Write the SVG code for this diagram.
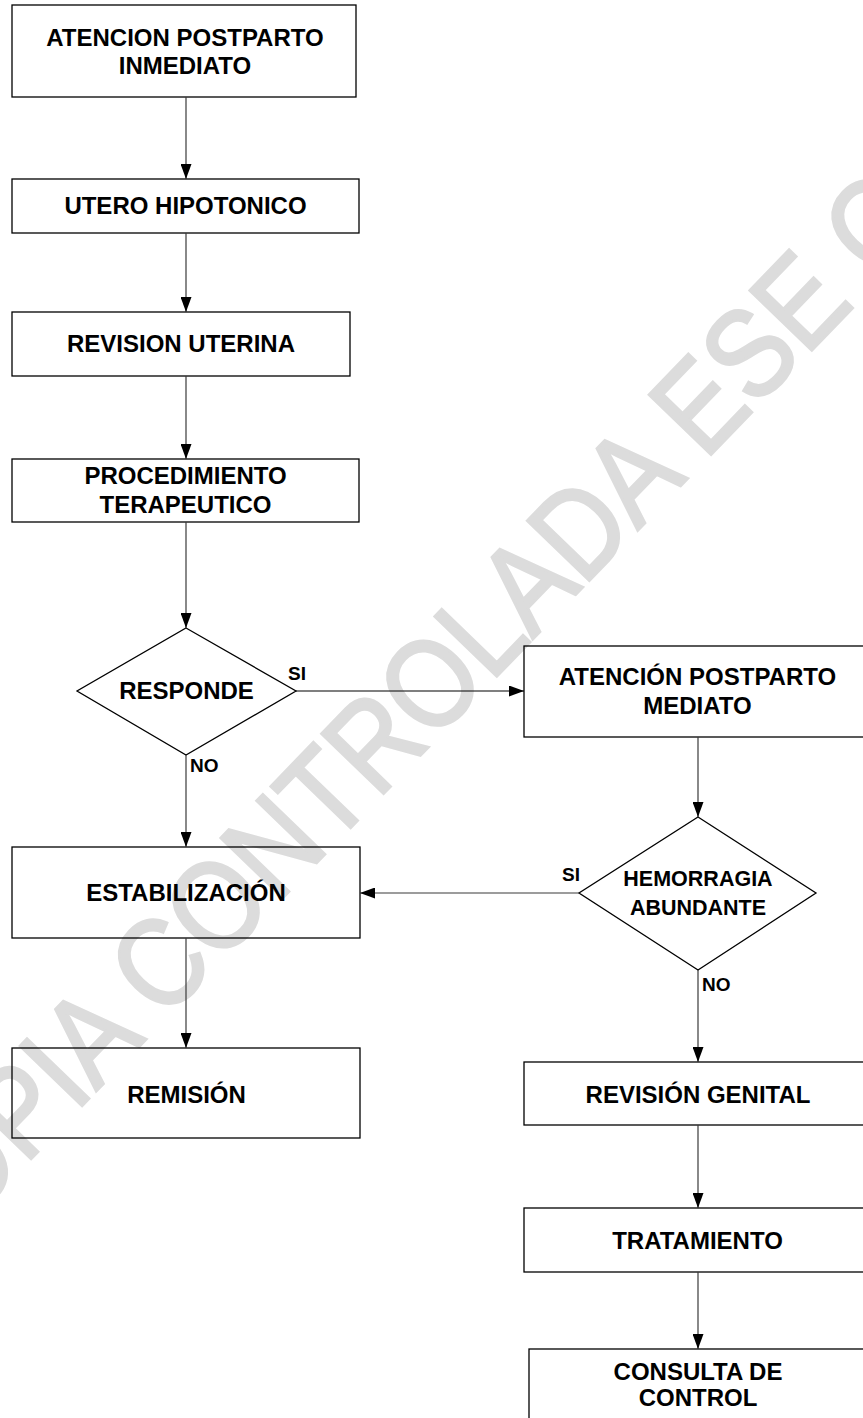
<svg xmlns="http://www.w3.org/2000/svg" width="863" height="1418" viewBox="0 0 863 1418">
<style>
.box{fill:none;stroke:#000;stroke-width:1.3}
.t{font-family:"Liberation Sans",Arial,sans-serif;font-weight:bold;font-size:24px;fill:#000;text-anchor:middle}
.th{font-size:21.5px}
.lb{font-family:"Liberation Sans",Arial,sans-serif;font-weight:bold;font-size:19px;fill:#000}
.c{fill:none;stroke:#3a3a3a;stroke-width:1.2}
.wm{font-family:"Liberation Sans",Arial,sans-serif;font-size:125px;fill:#dcdcdc;stroke:#dcdcdc;stroke-width:3}
</style>
<defs>
<marker id="ah" markerUnits="userSpaceOnUse" markerWidth="15" markerHeight="11" refX="15" refY="5.5" orient="auto">
<path d="M0,0 L15,5.5 L0,11 z" fill="#000"/>
</marker>
</defs>
<rect width="863" height="1418" fill="#fff"/>
<text class="wm" x="0" y="0" transform="translate(-88.6,1282.5) rotate(-46) scale(0.87,1)">COPIA CONTROLADA ESE C</text>
<g id="n1"><rect class="box" x="12" y="5" width="344" height="92"/><text class="t" x="185" y="46">ATENCION POSTPARTO</text><text class="t" x="185" y="73.5">INMEDIATO</text></g>
<g id="n2"><rect class="box" x="12" y="179" width="347" height="54"/><text class="t" x="185.5" y="214">UTERO HIPOTONICO</text></g>
<g id="n3"><rect class="box" x="12" y="312" width="338" height="64"/><text class="t" x="181" y="352">REVISION UTERINA</text></g>
<g id="n4"><rect class="box" x="12" y="459" width="347" height="63"/><text class="t" x="185.5" y="483.5">PROCEDIMIENTO</text><text class="t" x="185.5" y="512.5">TERAPEUTICO</text></g>
<g id="d1"><polygon class="box" points="186,628 296,691 186,755 77,691"/><text class="t" x="186.5" y="699">RESPONDE</text></g>
<g id="n5"><rect class="box" x="524" y="646" width="348" height="91"/><text class="t" x="697.5" y="685">ATENCIÓN POSTPARTO</text><text class="t" x="697.5" y="714">MEDIATO</text></g>
<g id="d2"><polygon class="box" points="698,817 816,893 698,970 579,893"/><text class="t th" x="698" y="886">HEMORRAGIA</text><text class="t th" x="698" y="914.5">ABUNDANTE</text></g>
<g id="n6"><rect class="box" x="12" y="847" width="348" height="91"/><text class="t" x="186" y="901">ESTABILIZACIÓN</text></g>
<g id="n7"><rect class="box" x="12" y="1048" width="348" height="90"/><text class="t" x="186.5" y="1103">REMISIÓN</text></g>
<g id="n8"><rect class="box" x="524" y="1062" width="348" height="63"/><text class="t" x="698" y="1102.5">REVISIÓN GENITAL</text></g>
<g id="n9"><rect class="box" x="524" y="1208" width="348" height="64"/><text class="t" x="697.5" y="1248.5">TRATAMIENTO</text></g>
<g id="n10"><rect class="box" x="529" y="1349" width="338" height="91"/><text class="t" x="698" y="1380">CONSULTA DE</text><text class="t" x="698" y="1406">CONTROL</text></g>
<g id="connectors">
<line class="c" x1="186" y1="97" x2="186" y2="179" marker-end="url(#ah)"/>
<line class="c" x1="186" y1="233" x2="186" y2="312" marker-end="url(#ah)"/>
<line class="c" x1="186" y1="376" x2="186" y2="459" marker-end="url(#ah)"/>
<line class="c" x1="186" y1="522" x2="186" y2="628" marker-end="url(#ah)"/>
<line class="c" x1="186" y1="755" x2="186" y2="847" marker-end="url(#ah)"/>
<line class="c" x1="296" y1="691" x2="524" y2="691" marker-end="url(#ah)" style="stroke:#000"/>
<line class="c" x1="698" y1="737" x2="698" y2="817" marker-end="url(#ah)"/>
<line class="c" x1="579" y1="893" x2="360" y2="893" marker-end="url(#ah)"/>
<line class="c" x1="698" y1="970" x2="698" y2="1062" marker-end="url(#ah)"/>
<line class="c" x1="186" y1="938" x2="186" y2="1048" marker-end="url(#ah)"/>
<line class="c" x1="698" y1="1125" x2="698" y2="1208" marker-end="url(#ah)"/>
<line class="c" x1="698" y1="1272" x2="698" y2="1349" marker-end="url(#ah)"/>
<text class="lb" x="288" y="680">SI</text>
<text class="lb" x="190" y="772">NO</text>
<text class="lb" x="562" y="881">SI</text>
<text class="lb" x="702" y="991">NO</text>
</g>
</svg>
